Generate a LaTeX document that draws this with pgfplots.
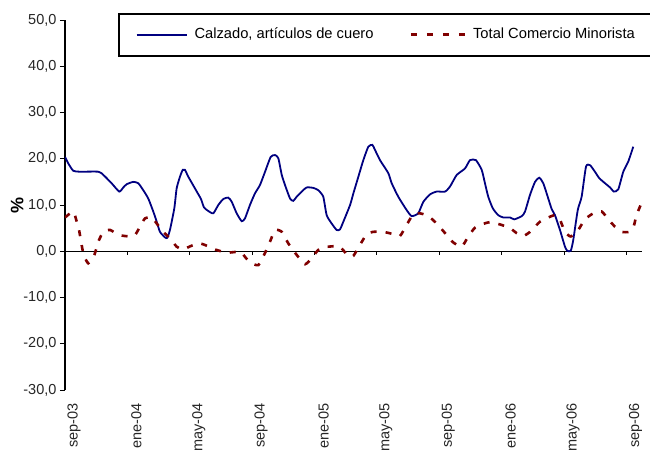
\documentclass[border=0pt]{standalone}
\usepackage{pgfplots}
\pgfplotsset{compat=1.18}
\usepackage{fontspec}
\setmainfont{Liberation Sans}
\definecolor{navyc}{RGB}{0,0,128}
\definecolor{darkr}{RGB}{128,0,0}
\begin{document}
\begin{tikzpicture}
\path[use as bounding box] (-65pt,-61pt) rectangle (585pt,390pt);
\begin{axis}[
  at={(0pt,0pt)}, anchor=south west,
  scale only axis, width=577pt, height=370pt,
  xmin=0, xmax=37, ymin=-30, ymax=50,
  axis x line=bottom, axis y line=left,
  axis line style={-, line width=1.5pt, black},
  x axis line style={draw=none},
  ytick={-30,-20,-10,0,10,20,30,40,50},
  xtick={0.58,4.58,8.58,12.58,16.58,20.58,24.58,28.58,32.58,36.58},
  xticklabels={sep-03,ene-04,may-04,sep-04,ene-05,may-05,sep-05,ene-06,may-06,sep-06},
  xtick style={draw=none},
  ytick style={line width=1pt, black},
  tick align=outside, major tick length=5pt,
  xticklabel style={rotate=90, anchor=east},
  xticklabel shift=5pt,
  y tick label style={/pgf/number format/.cd, fixed, fixed zerofill, precision=1, use comma, /tikz/.cd},
  /pgf/number format/assume math mode=true,
  tick label style={font=\fontsize{14.5}{16}\selectfont, text=black!85},
  ylabel={\%},
  ylabel style={font=\bfseries\fontsize{18}{20}\selectfont, at={(axis description cs:-0.083,0.5)}, anchor=center},
  legend columns=2,
  legend style={at={(axis description cs:0.0919,1.0189)}, anchor=north west,
    draw=black, line width=1.5pt, inner xsep=17pt, inner ysep=14pt,
    font=\fontsize{14.7}{17}\selectfont,
    nodes={inner sep=0pt, text height=11pt, text depth=3pt},
    column sep=7pt,
    /tikz/every even column/.append style={column sep=36pt},
    cells={anchor=west}},
]
\draw[line width=1.5pt, black] (axis cs:0,0) -- (axis cs:37,0);
\pgfplotsinvokeforeach{4,8,12,16,20,24,28,32,36}{
  \draw[line width=1pt, black] (axis cs:#1,0) -- ++(0pt,-4pt);
}
\addplot[navyc, line width=1.8pt, smooth, tension=0.35,
  legend image code/.code={\draw[navyc, line width=1.8pt] (0pt,0pt) -- (50pt,0pt);}]
coordinates {
(0.00,20.4) (0.21,19.0) (0.53,17.4) (0.96,17.2) (2.14,17.2) (2.46,16.5) (2.99,14.7) (3.48,12.9) (3.74,13.8) (3.96,14.5) (4.38,15.0) (4.70,14.7) (5.02,13.2) (5.34,11.4) (5.66,8.6) (5.88,6.4) (6.09,4.2) (6.41,3.0) (6.56,2.9) (6.73,4.6) (7.01,9.3) (7.16,13.6) (7.37,16.1) (7.55,17.6) (7.69,17.6) (7.91,16.1) (8.45,12.9) (8.72,11.3) (8.91,9.5) (9.19,8.7) (9.51,8.2) (9.83,10.0) (10.15,11.3) (10.47,11.6) (10.69,10.7) (11.01,8.2) (11.33,6.5) (11.54,7.1) (11.86,10.0) (12.18,12.5) (12.50,14.3) (12.83,17.2) (13.19,20.4) (13.47,20.8) (13.68,20.1) (13.90,16.5) (14.11,14.3) (14.43,11.4) (14.64,10.9) (14.86,11.8) (15.18,12.9) (15.50,13.8) (15.92,13.7) (16.24,13.2) (16.56,11.8) (16.78,7.8) (17.10,6.0) (17.42,4.6) (17.63,4.7) (17.85,6.4) (18.28,10.0) (18.49,12.5) (18.81,16.1) (19.13,19.7) (19.45,22.6) (19.71,23.0) (19.88,21.9) (20.20,19.7) (20.73,16.9) (20.95,14.7) (21.37,11.8) (21.91,8.9) (22.23,7.6) (22.65,8.2) (22.98,10.7) (23.41,12.3) (23.83,12.9) (24.37,12.9) (24.69,14.0) (25.12,16.5) (25.65,17.9) (25.97,19.7) (26.35,19.7) (26.72,17.6) (26.93,14.7) (27.14,11.8) (27.43,9.3) (27.78,7.8) (28.11,7.3) (28.54,7.3) (28.81,6.9) (29.29,7.6) (29.50,8.6) (29.82,12.2) (30.14,15.0) (30.41,15.9) (30.67,14.7) (30.99,11.4) (31.21,9.1) (31.42,7.8) (31.74,4.6) (32.06,1.0) (32.21,0.1) (32.43,0.1) (32.59,2.4) (32.88,8.9) (33.13,11.8) (33.41,18.3) (33.67,18.6) (33.98,17.2) (34.26,15.8) (34.63,14.7) (34.95,13.8) (35.20,12.9) (35.48,13.4) (35.80,17.2) (36.12,19.4) (36.44,22.6)
};
\addlegendentry{Calzado, artículos de cuero}
\addplot[darkr, line width=2.6pt, dash pattern=on 6pt off 9pt, smooth, tension=0.35,
  legend image code/.code={\draw[darkr, line width=2.6pt, dash pattern=on 6pt off 10pt] (0pt,0pt) -- (54pt,0pt);}]
coordinates {
(0.00,7.3) (0.53,8.6) (0.71,6.9) (0.90,4.6) (1.17,-0.4) (1.49,-2.6) (1.88,-0.8) (2.14,2.1) (2.46,4.2) (2.89,4.6) (3.48,3.5) (4.17,3.2) (4.49,3.5) (4.81,5.3) (5.13,7.1) (5.56,7.3) (5.88,6.0) (6.30,4.2) (6.73,2.8) (7.16,1.0) (7.55,0.4) (8.12,1.2) (8.66,1.7) (9.30,0.9) (9.51,0.5) (10.37,-0.3) (11.22,-0.1) (11.54,-1.2) (11.86,-2.4) (12.40,-3.0) (12.82,-0.4) (13.15,2.1) (13.47,4.6) (13.90,4.2) (14.32,1.7) (14.86,-0.8) (15.39,-2.8) (15.82,-1.5) (16.24,0.3) (16.67,0.9) (17.31,1.1) (17.63,1.0) (18.17,-1.0) (18.49,-1.0) (18.92,1.4) (19.35,3.7) (19.77,4.2) (20.41,4.2) (21.05,3.7) (21.48,3.3) (21.91,5.7) (22.33,8.0) (22.76,8.2) (23.30,7.6) (23.83,6.0) (24.48,3.5) (24.90,1.9) (25.44,1.0) (25.86,3.2) (26.29,5.1) (26.82,5.9) (27.25,6.3) (27.89,5.8) (28.54,5.0) (28.97,3.9) (29.39,3.3) (29.82,4.2) (30.46,6.4) (30.99,7.3) (31.42,7.8) (31.74,6.8) (32.06,4.2) (32.43,3.2) (32.91,4.6) (33.34,6.9) (33.88,8.2) (34.41,8.6) (34.84,6.9) (35.27,5.3) (35.70,4.2) (36.19,4.2) (36.46,5.3) (36.65,7.8) (37.00,10.7)
};
\addlegendentry{Total Comercio Minorista}
\end{axis}
\end{tikzpicture}
\end{document}
